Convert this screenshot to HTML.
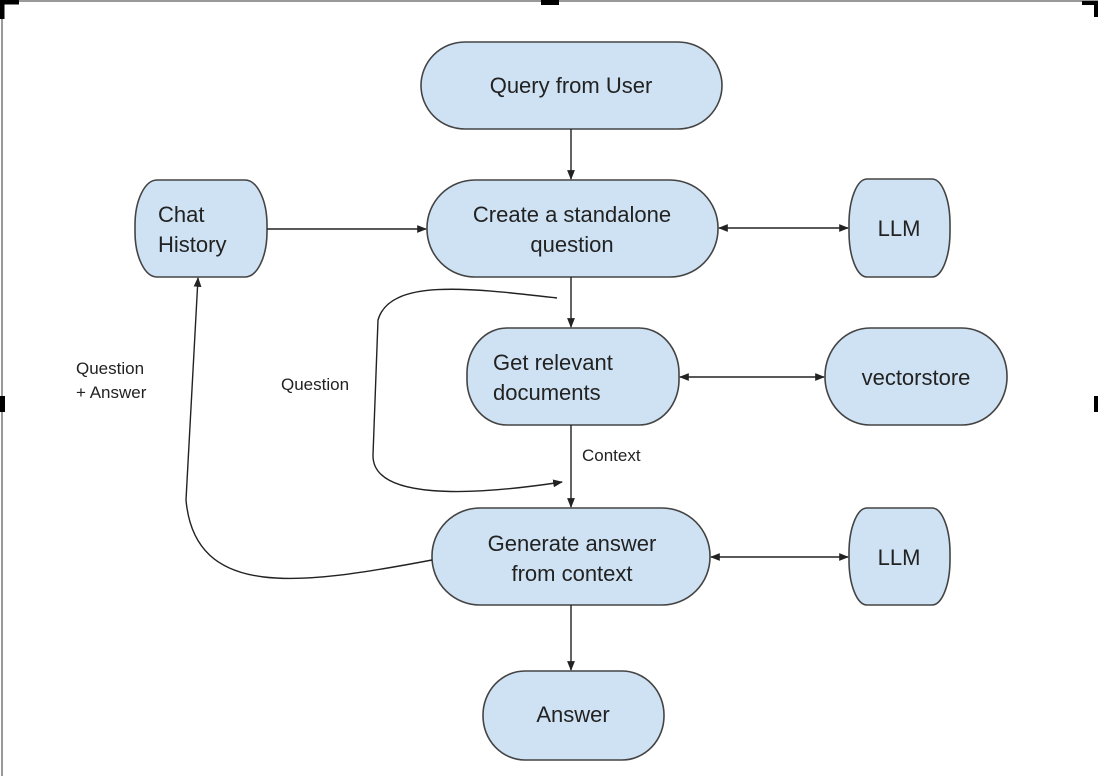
<!DOCTYPE html>
<html><head><style>
html,body{margin:0;padding:0;background:#fff;}
svg{display:block;}
text{font-family:"Liberation Sans",Arial,sans-serif;fill:#222;}
</style></head><body>
<svg width="1098" height="776" viewBox="0 0 1098 776" xmlns="http://www.w3.org/2000/svg">
<defs>
<marker id="a" viewBox="0 0 10 10" refX="9" refY="5" markerWidth="7" markerHeight="7" orient="auto-start-reverse">
<path d="M0,1 L10,5 L0,9 z" fill="#222"/></marker>
</defs>
<!-- frame -->
<line x1="2" y1="0" x2="2" y2="776" stroke="#999" stroke-width="2"/>
<line x1="0" y1="1" x2="1098" y2="1" stroke="#999" stroke-width="2"/>
<path d="M2,19 V2 H19" fill="none" stroke="#000" stroke-width="5"/>
<rect x="541" y="0" width="18" height="5" fill="#000"/>
<path d="M1082,3 H1096 V17" fill="none" stroke="#000" stroke-width="4"/>
<rect x="0" y="396" width="5" height="16" fill="#000"/>
<rect x="1094" y="396" width="4" height="16" fill="#000"/>

<g fill="#cfe2f3" stroke="#444" stroke-width="1.6">
<rect x="421" y="42" width="301" height="87" rx="44" ry="44"/>
<rect x="135" y="180" width="132" height="97" rx="22" ry="45"/>
<rect x="427" y="180" width="291" height="97" rx="48" ry="48"/>
<rect x="849" y="179" width="101" height="98" rx="18" ry="45"/>
<rect x="467" y="328" width="212" height="97" rx="40" ry="45"/>
<rect x="825" y="328" width="182" height="97" rx="45" ry="48"/>
<rect x="432" y="508" width="278" height="97" rx="48" ry="48"/>
<rect x="849" y="508" width="101" height="97" rx="18" ry="45"/>
<rect x="483" y="671" width="181" height="89" rx="42" ry="44"/>
</g>

<g stroke="#222" stroke-width="1.4" fill="none">
<line x1="571" y1="129" x2="571" y2="179" marker-end="url(#a)"/>
<line x1="267" y1="229" x2="426" y2="229" marker-end="url(#a)"/>
<line x1="719" y1="228" x2="848" y2="228" marker-start="url(#a)" marker-end="url(#a)"/>
<line x1="571" y1="277" x2="571" y2="327" marker-end="url(#a)"/>
<line x1="680" y1="377" x2="824" y2="377" marker-start="url(#a)" marker-end="url(#a)"/>
<line x1="571" y1="425" x2="571" y2="507" marker-end="url(#a)"/>
<line x1="711" y1="557" x2="848" y2="557" marker-start="url(#a)" marker-end="url(#a)"/>
<line x1="571" y1="605" x2="571" y2="670" marker-end="url(#a)"/>
<path d="M557,298 C470,288 390,278 378,320 L373,455 C372,500 470,496 562,482" marker-end="url(#a)"/>
<path d="M432,560 C300,585 195,600 186,500 L198,278" marker-end="url(#a)"/>
</g>

<g font-size="22">
<text x="571" y="93" text-anchor="middle">Query from User</text>
<text x="158" y="222">Chat</text>
<text x="158" y="252">History</text>
<text x="572" y="222" text-anchor="middle">Create a standalone</text>
<text x="572" y="252" text-anchor="middle">question</text>
<text x="899" y="236" text-anchor="middle">LLM</text>
<text x="493" y="370">Get relevant</text>
<text x="493" y="400">documents</text>
<text x="916" y="385" text-anchor="middle">vectorstore</text>
<text x="572" y="551" text-anchor="middle">Generate answer</text>
<text x="572" y="581" text-anchor="middle">from context</text>
<text x="899" y="565" text-anchor="middle">LLM</text>
<text x="573" y="722" text-anchor="middle">Answer</text>
</g>
<g font-size="17">
<text x="76" y="374">Question</text>
<text x="76" y="398">+ Answer</text>
<text x="281" y="390">Question</text>
<text x="582" y="461">Context</text>
</g>
</svg>
</body></html>
